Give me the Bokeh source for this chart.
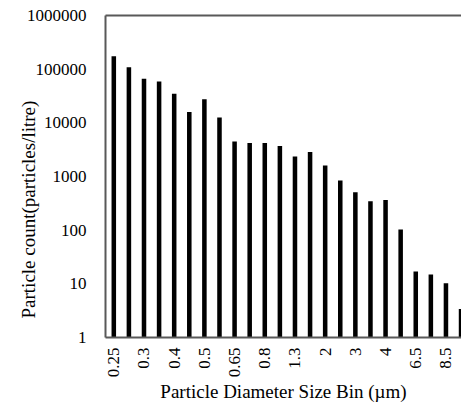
import math
from bokeh.plotting import figure
from bokeh.models import FixedTicker, PrintfTickFormatter, LinearAxis, Title, Range1d
from bokeh.embed import file_html
from bokeh.resources import INLINE

# Particle size bins (µm) - Grimm channels
categories = ["0.25", "0.28", "0.3", "0.35", "0.4", "0.45", "0.5", "0.58",
              "0.65", "0.7", "0.8", "1", "1.3", "1.6", "2", "2.5",
              "3", "3.5", "4", "5", "6.5", "7.5", "8.5", "10"]
# Particle count (particles/litre)
counts = [174000, 109000, 66000, 59000, 35000, 16000, 27500, 12600,
          4480, 4200, 4200, 3700, 2370, 2860, 1610, 840,
          508, 344, 364, 103, 17, 15, 10.2, 3.4]
y_ticks = [1, 10, 100, 1000, 10000, 100000, 1000000]

FONT = "Liberation Serif"
FS = "19px"
TICK_FS = "17px"
AXIS_COLOR = "#595959"

xs = list(range(1, len(categories) + 1))

p = figure(width=461, height=415, y_axis_type="log",
           x_range=Range1d(0.45, 24.03), y_range=Range1d(1, 1e6),
           output_backend="svg", toolbar_location=None,
           min_border_left=105, min_border_right=0,
           min_border_top=15, min_border_bottom=78)
p.outline_line_color = None
p.background_fill_color = "white"
p.border_fill_color = "white"
p.xgrid.visible = False
p.ygrid.visible = False

p.vbar(x=xs, top=counts, bottom=1, width=0.3, fill_color="black", line_color=None)

# y axis
ya = p.yaxis[0]
ya.ticker = FixedTicker(ticks=y_ticks)
ya.formatter = PrintfTickFormatter(format="%d")
ya.major_tick_in = 0
ya.major_tick_out = 0
ya.minor_tick_in = 0
ya.minor_tick_out = 0
ya.axis_line_color = AXIS_COLOR
ya.axis_line_width = 2
ya.major_label_standoff = 19
ya.major_label_text_font = FONT
ya.major_label_text_font_size = TICK_FS
ya.major_label_text_font_style = "normal"
ya.major_label_text_color = "black"

# x axis
xa = p.xaxis[0]
tick_pos = xs[::2]
xa.ticker = FixedTicker(ticks=tick_pos)
xa.major_label_overrides = {x: c for x, c in zip(tick_pos, categories[::2])}
xa.major_label_orientation = math.pi / 2
xa.major_tick_in = 0
xa.major_tick_out = 0
xa.minor_tick_in = 0
xa.minor_tick_out = 0
xa.axis_line_color = AXIS_COLOR
xa.axis_line_width = 2
xa.major_label_standoff = 10
xa.major_label_text_font = FONT
xa.major_label_text_font_size = TICK_FS
xa.major_label_text_font_style = "normal"
xa.major_label_text_color = "black"
xa.axis_label = "Particle Diameter Size Bin (\u00b5m)"
xa.axis_label_text_font = FONT
xa.axis_label_text_font_size = FS
xa.axis_label_text_font_style = "normal"
xa.axis_label_text_color = "black"
xa.axis_label_standoff = 1

# top border
top = LinearAxis(ticker=FixedTicker(ticks=[]), axis_line_color=AXIS_COLOR,
                 axis_line_width=2, major_tick_in=0, major_tick_out=0,
                 minor_tick_in=0, minor_tick_out=0, major_label_text_font_size="0px")
p.add_layout(top, "above")

# y axis title
yt = Title(text="Particle count(particles/litre)", align="left", offset=19,
           standoff=-30, text_font=FONT, text_font_size=FS,
           text_font_style="normal", text_color="black")
p.add_layout(yt, "left")

open("out.html", "w").write(file_html(p, INLINE))
